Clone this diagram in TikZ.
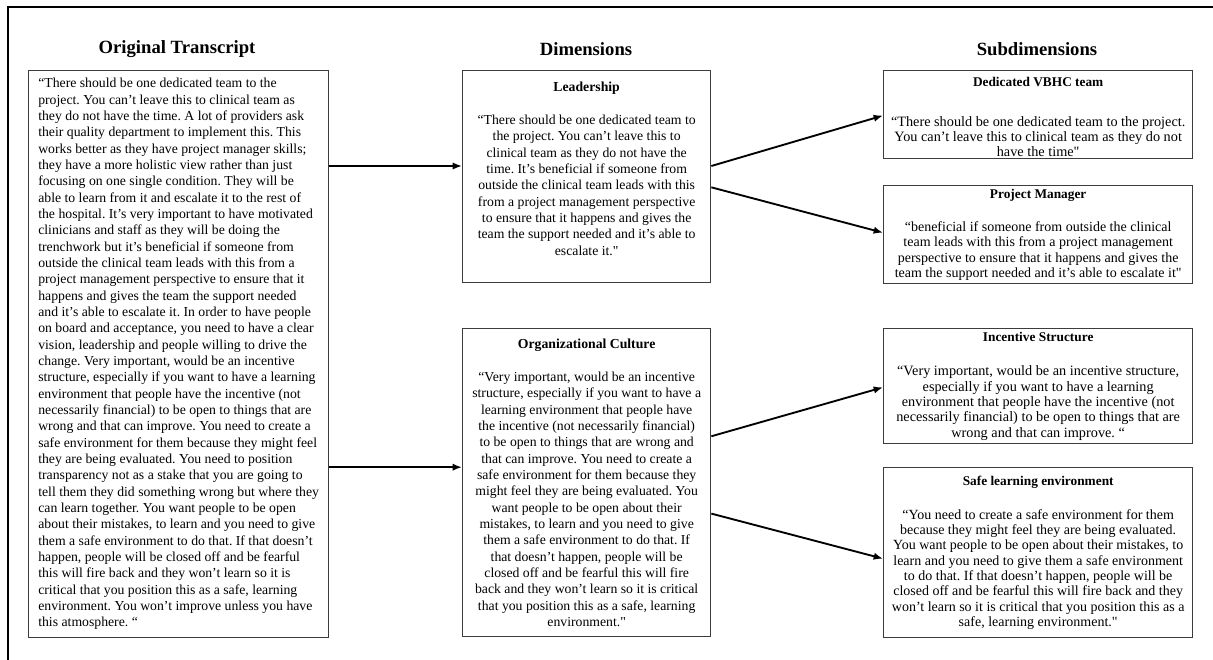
\documentclass[tikz,border=0pt]{standalone}
\usepackage{fontspec}
\setmainfont{Liberation Serif}[Ligatures=TeXOff]
\usetikzlibrary{arrows.meta,calc}
\frenchspacing

\definecolor{boxgray}{HTML}{3C3C3C}

\tikzset{%
   box/.style={draw=boxgray, line width=1pt, anchor=north west, inner sep=0pt,
      font=\fontsize{10.3}{12.25}\selectfont},
   dimbox/.style={box, align=center, minimum width=186pt},
   subbox/.style={box, align=center, minimum width=231.75pt,
      font=\fontsize{10.5}{11.5}\selectfont},
   head/.style={font=\fontsize{14}{16}\selectfont\bfseries},
   arr/.style={-{Latex[length=7pt,width=5.5pt]}, line width=1.4pt},
}

\begin{document}
\begin{tikzpicture}[x=0.75pt, y=-0.75pt]%
      \useasboundingbox (0,0) rectangle (1213,660);%
      % ~ frame
      \draw[line width=1.5pt] (8,660) -- (8,7) -- (1213,7);%
      % ~ column heads
      \node[head] (headtrans) at (177,49) {Original Transcript};
      \node[head] (headdim) at (586,49) {Dimensions};
      \node[head] (headsub) at (1037,49) {Subdimensions};
      % ~ transcript
      \node[box, align=left, minimum width=225pt, minimum height=425.25pt] (trans) at (28,70)
         {“There should be one dedicated team to the\\
          project. You can’t leave this to clinical team as\\
          they do not have the time. A lot of providers ask\\
          their quality department to implement this. This\\
          works better as they have project manager skills;\\
          they have a more holistic view rather than just\\
          focusing on one single condition. They will be\\
          able to learn from it and escalate it to the rest of\\
          the hospital. It’s very important to have motivated\\
          clinicians and staff as they will be doing the\\
          trenchwork but it’s beneficial if someone from\\
          outside the clinical team leads with this from a\\
          project management perspective to ensure that it\\
          happens and gives the team the support needed\\
          and it’s able to escalate it. In order to have people\\
          on board and acceptance, you need to have a clear\\
          vision, leadership and people willing to drive the\\
          change. Very important, would be an incentive\\
          structure, especially if you want to have a learning\\
          environment that people have the incentive (not\\
          necessarily financial) to be open to things that are\\
          wrong and that can improve. You need to create a\\
          safe environment for them because they might feel\\
          they are being evaluated. You need to position\\
          transparency not as a stake that you are going to\\
          tell them they did something wrong but where they\\
          can learn together. You want people to be open\\
          about their mistakes, to learn and you need to give\\
          them a safe environment to do that. If that doesn’t\\
          happen, people will be closed off and be fearful\\
          this will fire back and they won’t learn so it is\\
          critical that you position this as a safe, learning\\
          environment. You won’t improve unless you have\\
          this atmosphere. “};
      % ~ dimensions
      \node[dimbox, minimum height=159pt] (lead) at (462,70)
         {\textbf{Leadership}\\[12.5pt]
          “There should be one dedicated team to\\
          the project. You can’t leave this to\\
          clinical team as they do not have the\\
          time. It’s beneficial if someone from\\
          outside the clinical team leads with this\\
          from a project management perspective\\
          to ensure that it happens and gives the\\
          team the support needed and it’s able to\\
          escalate it."\rule[-12pt]{0pt}{0pt}};
      \node[dimbox, minimum height=231pt] (culture) at (462,328)
         {\textbf{Organizational Culture}\\[12.5pt]
          “Very important, would be an incentive\\
          structure, especially if you want to have a\\
          learning environment that people have\\
          the incentive (not necessarily financial)\\
          to be open to things that are wrong and\\
          that can improve. You need to create a\\
          safe environment for them because they\\
          might feel they are being evaluated. You\\
          want people to be open about their\\
          mistakes, to learn and you need to give\\
          them a safe environment to do that. If\\
          that doesn’t happen, people will be\\
          closed off and be fearful this will fire\\
          back and they won’t learn so it is critical\\
          that you position this as a safe, learning\\
          environment."};
      % ~ subdimensions
      \node[subbox, minimum height=66pt, font=\fontsize{10.7}{11.25}\selectfont] (dedicated) at (883,70)
         {\fontsize{10}{11.5}\selectfont\textbf{\rule{0pt}{10pt}Dedicated VBHC team}\\[19pt]
          “There should be one dedicated team to the project.\\
          You can’t leave this to clinical team as they do not\\
          have the time"};
      \node[subbox, minimum height=73.5pt] (manager) at (883,185)
         {\fontsize{10}{11.5}\selectfont\textbf{Project Manager}\\[13.5pt]
          “beneficial if someone from outside the clinical\\
          team leads with this from a project management\\
          perspective to ensure that it happens and gives the\\
          team the support needed and it’s able to escalate it"};
      \node[subbox, minimum height=86.25pt, font=\fontsize{10.7}{11.5}\selectfont] (incentive) at (883,328)
         {\fontsize{10}{11.5}\selectfont\textbf{Incentive Structure}\\[14.5pt]
          “Very important, would be an incentive structure,\\
          especially if you want to have a learning\\
          environment that people have the incentive (not\\
          necessarily financial) to be open to things that are\\
          wrong and that can improve. “};
      \node[subbox, minimum height=127.5pt] (safe) at (883,467)
         {\fontsize{10}{11.5}\selectfont\textbf{Safe learning environment}\\[14pt]
          “You need to create a safe environment for them\\
          because they might feel they are being evaluated.\\
          You want people to be open about their mistakes, to\\
          learn and you need to give them a safe environment\\
          to do that. If that doesn’t happen, people will be\\
          closed off and be fearful this will fire back and they\\
          won’t learn so it is critical that you position this as a\\
          safe, learning environment."};
      % ~ arrows
      \coordinate (leadin) at ($(lead.north west)!0.45!(lead.south west)$);
      \coordinate (culturein) at ($(culture.north west)!0.45!(culture.south west)$);
      \draw[arr] (trans.east |- leadin) -- (leadin);%
      \draw[arr] (trans.east |- culturein) -- (culturein);%
      \draw[arr] ($(lead.north east)!0.45!(lead.south east)$) -- ($(dedicated.north west)!0.51!(dedicated.south west)$);%
      \draw[arr] ($(lead.north east)!0.55!(lead.south east)$) -- ($(manager.north west)!0.48!(manager.south west)$);%
      \draw[arr] ($(culture.north east)!0.35!(culture.south east)$) -- ($(incentive.north west)!0.51!(incentive.south west)$);%
      \draw[arr] ($(culture.north east)!0.6!(culture.south east)$) -- ($(safe.north west)!0.535!(safe.south west)$);%
         %
   \end{tikzpicture}
\end{document}
